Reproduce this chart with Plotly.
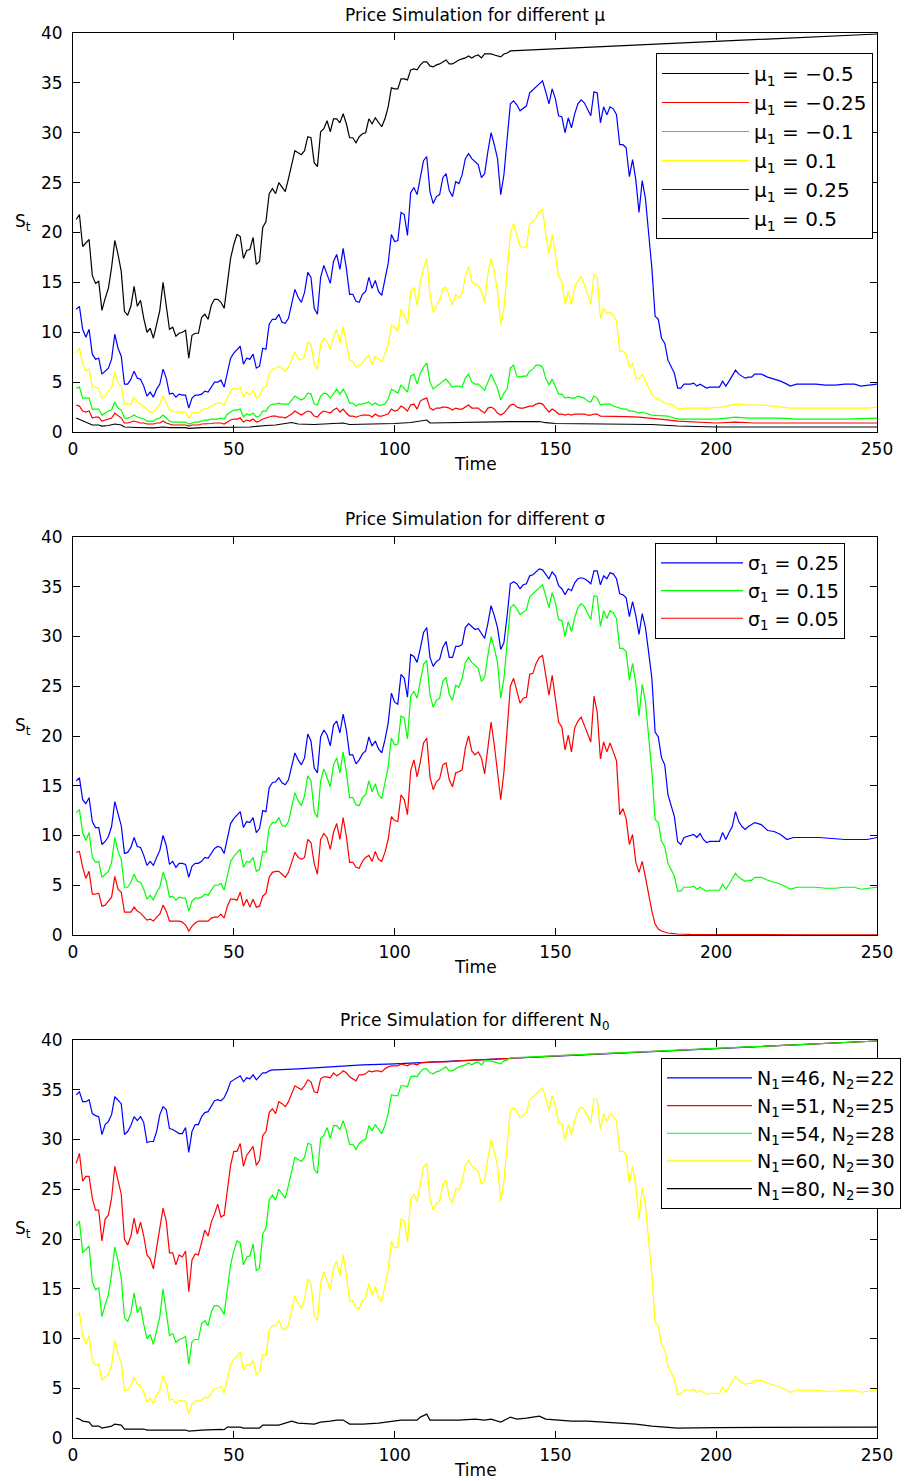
import plotly.graph_objects as go

# ---------------------------------------------------------------- data
# time steps 1..N for densely read segments, plus sparser tails
def steps(a, b):
    return list(range(a, b + 1))

# base path: mu=0.25 / sigma=0.15 / N1=60,N2=30
base_y = [12.3, 12.6, 10.3, 9.5, 10.3, 7.8, 7.3, 7.4, 5.8, 6.1, 6.4, 7.3, 9.8, 8.4, 7.6, 4.8, 4.8, 5.3, 6.1, 5.4,
          5.3, 4.6, 3.6, 4.0, 3.5, 4.3, 4.8, 6.3, 5.4, 3.8, 3.9, 3.5, 3.8, 3.7, 3.7, 2.4, 3.4, 3.7, 3.7, 3.8,
          4.1, 4.0, 4.5, 5.0, 5.0, 5.2, 4.5, 6.1, 7.4, 7.9, 8.3, 8.6, 6.8, 7.4, 7.3, 7.8, 6.4, 6.6, 8.4, 8.3,
          10.8, 11.3, 11.3,
          11.8, 11.0, 10.9, 11.4, 12.8, 14.3, 13.5, 13.0, 14.0, 16.0, 15.5, 12.4, 11.8, 15.5, 16.7, 15.8, 14.9,
          17.1, 17.8, 16.3, 18.4, 16.4, 13.8, 13.8, 13.1, 13.0, 13.8, 14.1, 15.5, 14.4, 15.2, 14.1, 13.7, 15.3,
          16.9, 19.8, 19.1, 19.2, 22.0, 21.8, 19.7, 24.0, 24.5, 23.8, 25.4, 27.2, 27.6, 24.1, 22.9, 23.6, 23.8,
          25.5, 25.9, 24.2, 23.6, 25.1, 24.9, 25.8, 27.4, 27.9, 27.4, 27.1,
          26.8, 25.5, 25.9, 28.1, 30.0, 28.8, 27.4, 23.8, 25.8, 29.4, 32.9, 33.2, 32.8, 32.2, 32.5, 32.7, 34.0,
          34.3, 34.7, 35.0, 35.2, 34.1, 32.9, 34.4, 33.4, 31.7, 31.6, 30.0, 31.5, 30.5, 31.9, 32.9, 33.3, 33.0,
          32.4, 31.7, 34.1, 34.0, 31.0, 32.6, 31.8, 32.6, 32.4, 31.8, 28.8, 28.8, 28.5, 25.6, 27.3, 25.3, 22.0,
          25.2, 23.4, 19.8, 16.4, 11.6, 11.3, 9.4, 8.9, 7.2, 6.6, 5.9, 4.4,
          4.4, 4.8, 4.8, 4.8, 4.9, 4.6, 4.8, 4.6, 4.4, 4.5, 4.5, 4.5, 4.5, 5.1, 4.6, 5.1, 5.6, 6.2, 5.8, 5.6,
          5.4, 5.5, 5.5, 5.8, 5.8, 5.5, 5.3, 5.1, 4.8, 4.6, 4.8, 4.8, 4.8, 4.7, 4.7, 4.8, 4.8, 4.6, 4.7, 4.8]
base_t = steps(1, 188) + steps(189, 212) + [214, 216, 218, 220, 222, 223, 225, 228, 231, 234, 237, 240,
                                            243, 245, 247, 250]

# mu=0.5 / N1=54,N2=28
high_y = [21.3, 21.8, 18.6, 18.9, 19.3, 15.7, 14.9, 15.1, 12.2, 13.4, 14.4, 16.5, 19.2, 17.8, 16.1, 12.1, 11.7,
          12.6, 14.6, 12.6, 13.2, 11.4, 10.0, 10.4, 9.4, 10.8, 12.2, 15.0, 12.8, 10.3, 10.5, 9.6, 9.9, 10.0, 10.2,
          7.4, 9.7, 9.9, 9.9, 11.5, 11.8, 11.3, 12.7, 13.3, 13.3, 13.0, 12.4, 15.1, 17.4, 18.8, 19.8, 19.6, 17.4,
          18.2, 18.3, 19.5, 16.8, 17.1, 20.5, 21.1, 23.9, 24.4, 23.9,
          25.0, 24.5, 24.1, 25.4, 26.7, 28.2, 28.0, 27.8, 28.2, 29.6, 29.5, 27.0, 26.6, 30.1, 30.4, 31.2, 30.1,
          31.4, 31.4, 31.0, 31.9, 30.9, 29.5, 29.5, 29.0, 29.6, 29.9, 30.0, 31.4, 30.9, 31.5, 31.0, 30.6, 31.4,
          32.6, 34.5, 34.4, 34.4, 35.4, 35.4, 35.3, 36.3, 36.4, 36.3, 36.8, 37.1, 37.1, 36.7, 36.6, 36.8, 36.9,
          37.1, 37.3, 36.9, 36.9, 37.1, 37.3, 37.4, 37.5, 37.7, 37.5, 37.7,
          37.8, 37.5, 37.9, 37.9, 37.9, 37.8, 37.7, 37.6, 37.9, 38.0, 38.2,
          38.4, 38.7, 39.0, 39.3, 39.6, 39.9]
high_t = steps(1, 136) + [150, 170, 190, 210, 230, 250]

# mu=0.1
mu_p01_y = [7.9, 8.4, 6.8, 6.1, 6.3, 4.5, 4.5, 4.4, 3.4, 3.6, 4.1, 4.4, 6.0, 4.9, 4.6, 2.8, 2.8, 2.8, 3.5, 3.0,
            2.8, 2.5, 2.3, 2.0, 2.0, 2.4, 2.8, 3.6, 2.9, 2.2, 2.1, 2.0, 2.0, 2.0, 2.0, 1.4, 1.9, 2.0, 1.9, 2.2,
            2.3, 2.4, 2.6, 2.8, 2.9, 2.9, 2.7, 3.4, 4.1, 4.4, 4.3, 4.5, 3.5, 4.0, 3.7, 4.2, 3.4, 3.6, 4.4, 4.5,
            5.8, 6.3, 6.4,
            6.6, 6.3, 6.1, 6.5, 7.3, 8.0, 7.4, 7.2, 7.6, 9.0, 8.8, 6.8, 6.3, 8.8, 9.4, 9.1, 8.3, 9.5, 10.3, 8.9,
            10.6, 8.9, 7.2, 7.1, 6.5, 6.7, 6.9, 7.4, 7.7, 6.8, 7.6, 7.3, 7.1, 7.8, 8.8, 10.7, 10.5, 10.1, 12.3,
            11.7, 10.8, 14.1, 14.5, 12.7, 15.1, 16.4, 17.4, 13.8, 12.0, 12.6, 13.2, 14.4, 14.5, 13.6, 12.7, 13.8,
            13.4, 13.9, 15.6, 16.6, 15.1, 14.8,
            14.7, 14.1, 13.0, 15.8, 17.4, 16.1, 14.1, 10.8, 12.4, 16.1, 19.9, 20.9, 19.8, 18.6, 18.5, 18.6, 20.9,
            21.1, 21.5, 22.1, 22.3, 19.8, 17.9, 19.8, 17.8, 15.6, 15.1, 12.8, 14.1, 12.8, 14.6, 15.1, 15.6, 14.8,
            13.8, 12.8, 15.8, 15.5, 11.4, 12.4, 11.9, 12.0, 11.7, 11.1, 8.1, 8.1, 7.8, 6.5, 6.9, 5.4, 5.3, 5.8,
            5.1, 4.4, 3.8, 3.4, 3.3, 3.1, 2.9, 2.8, 2.8, 2.6, 2.3,
            2.4, 2.4, 2.4, 2.5, 2.8, 2.7, 2.7, 2.6, 2.4, 2.4, 2.4, 2.4, 2.4, 2.5]
mu_p01_t = steps(1, 188) + [190, 193, 197, 202, 206, 210, 214, 218, 223, 229, 235, 241, 247, 250]

# mu=-0.1
mu_m01_y = [4.4, 4.5, 3.4, 3.4, 3.4, 2.3, 2.3, 2.3, 1.7, 1.9, 2.1, 2.2, 3.0, 2.4, 2.2, 1.4, 1.4, 1.5, 1.7, 1.5,
            1.4, 1.3, 1.1, 1.1, 1.1, 1.3, 1.4, 1.7, 1.4, 1.1, 1.0, 1.0, 1.0, 1.0, 1.0, 0.8, 0.9, 1.0, 1.0, 1.1,
            1.2, 1.2, 1.3, 1.3, 1.3, 1.4, 1.3, 1.8, 2.0, 2.2, 2.2, 2.3, 1.5, 1.8, 1.7, 1.9, 1.5, 1.6, 2.1, 2.1,
            2.6, 2.8, 2.8,
            2.9, 2.8, 2.8, 2.8, 3.2, 3.6, 3.4, 3.2, 3.4, 3.9, 3.8, 2.8, 2.7, 3.6, 3.9, 3.8, 3.4, 3.9, 4.3, 3.8,
            4.3, 3.7, 2.9, 2.9, 2.6, 2.8, 2.8, 2.9, 3.0, 2.7, 2.9, 2.7, 2.7, 2.8, 3.3, 4.3, 4.1, 3.9, 4.7, 4.4,
            4.0, 5.6, 5.8, 4.8, 5.9, 6.5, 6.9, 5.0, 4.3, 4.6, 4.8, 5.1, 5.3, 4.9, 4.5, 4.6, 4.6, 4.5, 5.4, 5.8,
            5.0, 4.8,
            4.8, 4.5, 4.2, 5.0, 5.8, 5.1, 4.4, 3.2, 3.9, 4.3, 6.4, 6.7, 5.6, 5.5, 5.6, 5.6, 6.1, 6.3, 6.7, 6.7,
            6.5, 5.4, 4.7, 5.3, 4.6, 3.8, 3.8, 3.4, 3.5, 3.4, 3.4, 3.6, 3.5, 3.4, 3.1, 3.0, 3.6, 3.4, 2.7, 2.8,
            2.8, 2.8, 2.6, 2.5, 2.4, 2.3, 2.3, 2.1, 2.1, 2.0, 1.9, 2.0, 1.9, 1.8, 1.7,
            1.6, 1.3, 1.3, 1.3, 1.5, 1.4, 1.4, 1.3, 1.3, 1.4]
mu_m01_t = steps(1, 180) + [185, 188, 195, 200, 206, 210, 220, 225, 240, 250]

# mu=-0.25
mu_m025_y = [2.7, 2.6, 2.1, 2.0, 2.1, 1.4, 1.5, 1.5, 1.1, 1.2, 1.3, 1.4, 1.9, 1.6, 1.4, 0.9, 0.9, 1.0, 1.1, 1.0,
             0.9, 0.9, 0.8, 0.8, 0.8, 0.9, 0.9, 1.1, 0.9, 0.8, 0.7, 0.7, 0.7, 0.7, 0.7, 0.6, 0.7, 0.7, 0.7, 0.8,
             0.8, 0.8, 0.85, 0.9, 0.9, 0.9, 0.8, 1.0, 1.2, 1.3, 1.3, 1.4, 1.0, 1.2, 1.1, 1.3, 1.0, 1.1, 1.3, 1.4,
             1.5, 1.6, 1.6,
             1.5, 1.5, 1.4, 1.6, 1.8, 2.1, 1.9, 1.7, 1.9, 2.1, 2.0, 1.6, 1.5, 1.9, 2.1, 2.0, 1.9, 2.2, 2.4, 2.0,
             2.3, 1.9, 1.6, 1.6, 1.5, 1.6, 1.7, 1.7, 1.7, 1.5, 1.8, 1.6, 1.6, 1.7, 1.8, 2.3, 2.1, 2.2, 2.6, 2.4,
             2.1, 2.7, 2.8, 2.3, 3.1, 3.3, 3.4, 2.4, 2.2, 2.4, 2.4, 2.5, 2.5, 2.4, 2.2, 2.4, 2.3, 2.3, 2.5, 2.7,
             2.4, 2.4,
             2.4, 2.1, 1.9, 2.4, 2.5, 2.3, 1.9, 1.7, 1.9, 2.3, 2.7, 2.8, 2.5, 2.4, 2.4, 2.5, 2.6, 2.6, 2.8, 2.9,
             2.8, 2.4, 2.0, 2.3, 2.1, 1.8, 1.8, 1.7, 1.8, 1.7, 1.8, 1.8, 1.8, 1.8, 1.7, 1.7, 1.8, 1.8, 1.6,
             1.6, 1.55, 1.5, 1.4, 1.25, 1.1, 0.95, 0.9, 1.0, 0.9, 0.9, 0.9]
mu_m025_t = steps(1, 164) + [168, 172, 176, 180, 184, 188, 195, 200, 206, 212, 230, 250]

# mu=-0.5
mu_m05_t = [1, 3, 6, 8, 9, 11, 13, 15, 16, 20, 25, 28, 30, 35, 36, 40, 47, 50, 53, 55, 60, 63, 68, 70, 75, 78,
            84, 86, 90, 95, 100, 105, 110, 111, 115, 120, 125, 130, 136, 145, 147, 150, 160, 170, 180, 188, 200,
            250]
mu_m05_y = [1.4, 1.1, 0.7, 0.7, 0.6, 0.65, 0.8, 0.7, 0.5, 0.45, 0.42, 0.5, 0.43, 0.43, 0.37, 0.43, 0.43, 0.5,
            0.45, 0.5, 0.65, 0.7, 0.95, 0.8, 0.75, 0.8, 0.9, 0.75, 0.77, 0.77, 0.85, 0.95, 1.2, 0.9, 0.93, 0.95,
            0.95, 1.0, 1.05, 1.05, 0.93, 0.85, 0.83, 0.8, 0.75, 0.6, 0.5, 0.5]

# sigma=0.25
sig025_y = [15.5, 15.8, 13.6, 13.2, 13.8, 11.4, 10.8, 10.8, 9.1, 9.4, 9.9, 10.9, 13.4, 12.1, 11.0, 8.2, 8.3, 8.8,
            9.8, 8.9, 8.8, 8.0, 7.0, 7.4, 7.0, 7.8, 8.5, 10.0, 9.0, 7.1, 7.4, 6.8, 7.2, 7.2, 7.1, 5.8, 6.9, 7.2,
            7.2, 7.4, 7.8, 7.7, 8.2, 8.7, 8.9, 8.8, 8.2, 9.6, 11.2, 11.7, 12.1, 12.4, 10.8, 11.4, 11.3, 11.8, 10.3,
            10.7, 12.5, 12.4, 14.8, 15.3, 15.4,
            15.8, 15.3, 15.1, 15.6, 16.9, 18.3, 17.6, 17.1, 17.8, 20.2, 19.5, 16.8, 16.3, 19.9, 20.6, 20.1, 19.0,
            21.1, 21.5, 20.3, 22.2, 20.6, 18.1, 18.1, 17.2, 17.6, 18.2, 18.5, 19.9, 19.0, 19.5, 18.7, 18.3, 19.6,
            21.3, 24.3, 23.4, 23.2, 26.2, 25.8, 23.9, 28.2, 28.0, 27.4, 28.8, 30.4, 30.9, 27.9, 27.0, 27.5, 27.7,
            28.9, 29.5, 27.9, 27.9, 29.0, 29.0, 29.2, 30.9, 31.3, 31.0, 30.7,
            30.8, 30.3, 29.8, 31.3, 33.1, 32.1, 30.9, 28.7, 29.4, 32.1, 35.3, 35.5, 35.3, 34.8, 35.2, 35.3, 36.1,
            36.2, 36.5, 36.8, 36.7, 36.3, 35.8, 36.5, 36.1, 35.1, 34.8, 34.2, 34.8, 34.6, 35.4, 35.8, 35.9, 35.8,
            35.6, 35.3, 36.6, 36.6, 35.2, 36.1, 35.8, 36.4, 36.3, 35.8, 34.3, 34.2, 33.9, 32.0, 33.5, 32.1, 30.2,
            32.3, 30.9, 28.4, 25.8, 20.4, 19.9, 17.8, 17.1, 14.1, 13.1, 11.9, 9.4,
            9.1, 9.8, 9.9, 10.0, 10.1, 9.8, 10.2, 9.6, 9.3, 9.4, 9.4, 9.4, 10.3, 9.6, 10.3, 10.9, 12.4, 11.4,
            10.9, 10.6, 10.9, 11.3, 11.1, 10.5, 10.4, 10.1, 9.6, 9.8, 9.8, 9.8, 9.7, 9.6, 9.6, 9.6, 9.8]
sig025_t = steps(1, 188) + steps(189, 198) + steps(200, 210) + [212, 214, 216, 218, 220, 222, 224, 228, 232,
                                                                236, 240, 244, 247, 250]

# sigma=0.05
sig005_y = [8.3, 8.4, 6.8, 5.7, 6.4, 4.1, 4.1, 4.2, 2.9, 3.0, 3.4, 3.8, 5.9, 4.6, 4.3, 2.3, 2.3, 2.3, 2.8, 2.4,
            2.2, 1.8, 1.5, 1.6, 1.4, 1.8, 2.1, 3.0, 2.4, 1.4, 1.4, 1.4, 1.4, 1.3, 1.0, 0.4, 0.9, 1.2, 1.4, 1.4,
            1.4, 1.4, 1.7, 1.8, 1.8, 2.1, 1.7, 2.9, 3.6, 3.6, 3.5, 4.3, 2.9, 3.6, 2.8, 3.6, 2.8, 2.9, 3.9, 4.2,
            5.8, 6.3, 6.4,
            6.4, 6.1, 5.8, 6.3, 7.3, 8.3, 7.8, 7.6, 7.8, 9.6, 9.3, 7.2, 6.1, 9.6, 10.2, 9.8, 8.6, 10.3, 11.2, 9.6,
            11.8, 9.9, 7.3, 7.3, 6.8, 6.7, 7.4, 7.8, 8.0, 7.4, 8.4, 7.6, 7.4, 8.3, 9.6, 11.9, 11.5, 11.4, 14.1,
            13.6, 12.1, 16.5, 17.6, 15.9, 17.4, 19.3, 19.8, 15.9, 14.6, 15.4, 15.7, 17.1, 17.3, 15.6, 14.9, 16.3,
            16.4, 16.6, 18.8, 20.0, 18.5, 18.1,
            18.4, 17.8, 16.2, 18.8, 21.4, 19.1, 16.4, 13.6, 16.4, 21.1, 25.0, 25.8, 24.4, 23.3, 23.8, 23.9, 26.2,
            26.3, 27.3, 27.9, 28.1, 25.9, 24.1, 26.1, 23.8, 21.4, 20.9, 18.6, 20.1, 18.4, 20.8, 21.5, 21.9, 21.1,
            20.2, 19.4, 24.0, 22.4, 17.7, 19.4, 18.4, 19.3, 18.4, 17.5, 12.1, 12.7, 11.7, 9.1, 10.1, 7.3, 6.3,
            7.4, 5.8, 3.9, 2.4, 1.1, 0.6, 0.4, 0.27, 0.2, 0.17, 0.13, 0.1,
            0.06, 0.04, 0.03, 0.02, 0.01]
sig005_t = steps(1, 188) + [192, 200, 210, 230, 250]

# N1=46,N2=22
n46_y = [34.5, 34.8, 33.8, 33.8, 34.0, 32.6, 32.4, 32.3, 30.5, 31.5, 31.8, 32.5, 34.3, 33.9, 33.6, 30.5, 30.8,
         31.4, 32.3, 31.9, 32.3, 31.7, 29.7, 29.8, 29.8, 30.8, 32.5, 33.3, 33.0, 31.1, 31.0, 30.8, 30.6, 30.6,
         31.2, 28.7, 30.8, 31.5, 31.5, 32.3, 32.7, 32.8, 33.4, 33.9, 34.0, 33.9, 34.2, 34.9, 35.8, 36.0, 36.2,
         36.4, 35.8, 36.2, 36.1, 36.5, 36.0, 36.4, 36.7, 36.7, 36.9, 37.0, 37.0,
         37.1, 37.3, 37.5, 37.6, 37.75, 37.9, 38.05, 38.4, 38.7, 39.0, 39.3, 39.6, 39.9]
n46_t = steps(1, 63) + [70, 80, 90, 100, 110, 120, 130, 150, 170, 190, 210, 230, 250]

# N1=51,N2=25
n51_y = [27.6, 28.6, 25.8, 26.3, 26.3, 24.1, 22.9, 22.9, 19.8, 22.0, 22.4, 24.1, 27.3, 25.8, 24.5, 20.0, 19.4,
         20.3, 22.1, 20.5, 21.7, 20.3, 18.4, 18.0, 17.0, 19.1, 21.1, 23.1, 21.8, 18.6, 18.6, 17.4, 18.4, 18.2,
         18.8, 14.7, 17.9, 18.5, 18.4, 19.7, 20.9, 20.3, 21.7, 22.5, 23.5, 22.2, 22.4, 24.9, 27.4, 28.8, 28.8,
         29.6, 27.3, 28.4, 28.9, 29.3, 27.4, 27.9, 30.4, 30.8, 32.7, 33.1, 32.6,
         33.8, 33.6, 33.3, 33.8, 34.6, 35.4, 35.2, 35.0, 35.4, 36.0, 35.8, 34.8, 34.7, 36.1, 36.3, 36.3, 36.2,
         36.7, 36.4, 36.6, 36.9, 36.7, 36.3, 36.1, 35.9, 36.5, 36.5, 36.6, 36.9, 36.8, 36.9, 36.9, 36.8, 37.1,
         37.3, 37.4, 37.4, 37.4, 37.6, 37.5, 37.4, 37.6, 37.6, 37.5, 37.7,
         37.8, 37.8, 37.9, 38.0, 38.05, 38.4, 38.7, 39.0, 39.3, 39.6, 39.9]
n51_t = steps(1, 108) + [112, 116, 120, 125, 130, 150, 170, 190, 210, 230, 250]

# N1=80,N2=30
n80_t = [1, 2, 3, 5, 6, 8, 9, 12, 13, 15, 16, 22, 23, 35, 36, 40, 46, 47, 48, 52, 53, 58, 59, 64, 68, 70, 75,
         77, 80, 82, 84, 86, 88, 90, 95, 98, 100, 102, 105, 107, 108, 110, 111, 113, 116, 120, 125, 128, 130,
         133, 136, 138, 141, 145, 147, 150, 155, 160, 165, 170, 175, 180, 188, 200, 220, 250]
n80_y = [2.0, 1.9, 1.7, 1.6, 1.2, 1.2, 1.0, 1.2, 1.4, 1.3, 0.9, 0.9, 0.8, 0.8, 0.7, 0.8, 0.87, 0.83, 1.1, 1.1,
         1.0, 1.0, 1.3, 1.3, 1.7, 1.5, 1.4, 1.6, 1.7, 1.8, 1.8, 1.4, 1.4, 1.4, 1.5, 1.6, 1.7, 1.8, 1.8, 1.8,
         2.1, 2.4, 1.8, 1.8, 1.8, 1.8, 1.9, 1.8, 1.9, 1.6, 2.1, 1.9, 2.0, 2.2, 1.9, 1.8, 1.7, 1.7, 1.6, 1.5,
         1.4, 1.2, 1.0, 1.05, 1.1, 1.1]

mu_labels = ["μ<sub>1</sub> = −0.5", "μ<sub>1</sub> = −0.25", "μ<sub>1</sub> = −0.1",
             "μ<sub>1</sub> = 0.1", "μ<sub>1</sub> = 0.25", "μ<sub>1</sub> = 0.5"]
sigma_labels = ["σ<sub>1</sub> = 0.25", "σ<sub>1</sub> = 0.15", "σ<sub>1</sub> = 0.05"]
n_labels = ["N<sub>1</sub>=46, N<sub>2</sub>=22", "N<sub>1</sub>=51, N<sub>2</sub>=25",
            "N<sub>1</sub>=54, N<sub>2</sub>=28", "N<sub>1</sub>=60, N<sub>2</sub>=30",
            "N<sub>1</sub>=80, N<sub>2</sub>=30"]
titles = ["Price Simulation for different μ", "Price Simulation for different σ",
          "Price Simulation for different N<sub>0</sub>"]
x_ticks = [0, 50, 100, 150, 200, 250]
y_ticks = [0, 5, 10, 15, 20, 25, 30, 35, 40]

# ---------------------------------------------------------------- layout helpers
W, H = 917, 1481
L, R = 73, 877
FONT = "DejaVu Sans"
BLACK, RED, GREEN, YELLOW, BLUE = "#000000", "#ff0000", "#00ff00", "#ffff00", "#0000ff"
panels = [(33, 432), (537, 935), (1040, 1438)]  # top/bottom pixel rows of each axes box


def px_x(x):
    return (x - L) / (R - L)


def px_y(y):
    return 1 - y / H


fig = go.Figure()

groups = [
    ("legend", "x", "y", [
        (mu_m05_t, mu_m05_y, BLACK, mu_labels[0]),
        (mu_m025_t, mu_m025_y, RED, mu_labels[1]),
        (mu_m01_t, mu_m01_y, GREEN, mu_labels[2]),
        (mu_p01_t, mu_p01_y, YELLOW, mu_labels[3]),
        (base_t, base_y, BLUE, mu_labels[4]),
        (high_t, high_y, BLACK, mu_labels[5]),
    ]),
    ("legend2", "x2", "y2", [
        (sig025_t, sig025_y, BLUE, sigma_labels[0]),
        (base_t, base_y, GREEN, sigma_labels[1]),
        (sig005_t, sig005_y, RED, sigma_labels[2]),
    ]),
    ("legend3", "x3", "y3", [
        (n46_t, n46_y, BLUE, n_labels[0]),
        (n51_t, n51_y, RED, n_labels[1]),
        (high_t, high_y, GREEN, n_labels[2]),
        (base_t, base_y, YELLOW, n_labels[3]),
        (n80_t, n80_y, BLACK, n_labels[4]),
    ]),
]

for leg, xa, ya, series in groups:
    for t, v, c, name in series:
        fig.add_trace(go.Scatter(x=t, y=v, mode="lines", name=name, legend=leg,
                                 xaxis=xa, yaxis=ya, line=dict(color=c, width=1.2)))

axis_common = dict(showline=True, linecolor="black", linewidth=1, mirror="ticks", ticks="inside",
                   ticklen=7, tickcolor="black", tickwidth=1, showgrid=False, zeroline=False,
                   tickfont=dict(family=FONT, size=17, color="black"))

layout = dict(width=W, height=H, paper_bgcolor="white", plot_bgcolor="white",
              margin=dict(l=L, r=W - R, t=0, b=0, autoexpand=False), showlegend=True)

annotations = []
# (left px, top px, font size, symbol width)
legend_pos = [(656, 53, 20, 87), (655, 543, 19, 82), (661, 1058, 19, 85)]
for i, (top, bot) in enumerate(panels):
    sfx = "" if i == 0 else str(i + 1)
    layout["xaxis" + sfx] = dict(axis_common, range=[0, 250], tickvals=x_ticks, domain=[0, 1],
                                 anchor="y" + sfx, ticklabelstandoff=2)
    layout["yaxis" + sfx] = dict(axis_common, range=[0, 40], tickvals=y_ticks,
                                 domain=[px_y(bot), px_y(top)], anchor="x" + sfx, ticklabelstandoff=6)
    lx, ly, lf, lw = legend_pos[i]
    leg = "legend" if i == 0 else "legend" + str(i + 1)
    layout[leg] = dict(x=px_x(lx), y=px_y(ly), xanchor="left", yanchor="top", bgcolor="white",
                       bordercolor="black", borderwidth=1, itemwidth=lw,
                       font=dict(family=FONT, size=lf, color="black"))
    annotations.append(dict(text=titles[i], xref="paper", yref="paper", x=0.5, y=px_y(top - 18),
                            xanchor="center", yanchor="middle", showarrow=False,
                            font=dict(family=FONT, size=17, color="black")))
    annotations.append(dict(text="Time", xref="paper", yref="paper", x=px_x(475), y=px_y(bot + 32),
                            xanchor="center", yanchor="middle", showarrow=False,
                            font=dict(family=FONT, size=17, color="black")))
    annotations.append(dict(text="S<sub>t</sub>", xref="paper", yref="paper", x=px_x(23),
                            y=px_y((top + bot) / 2 - 10), xanchor="center", yanchor="middle",
                            showarrow=False, font=dict(family=FONT, size=17, color="black")))

layout["annotations"] = annotations
fig.update_layout(**layout)
fig.write_html("out.html")
